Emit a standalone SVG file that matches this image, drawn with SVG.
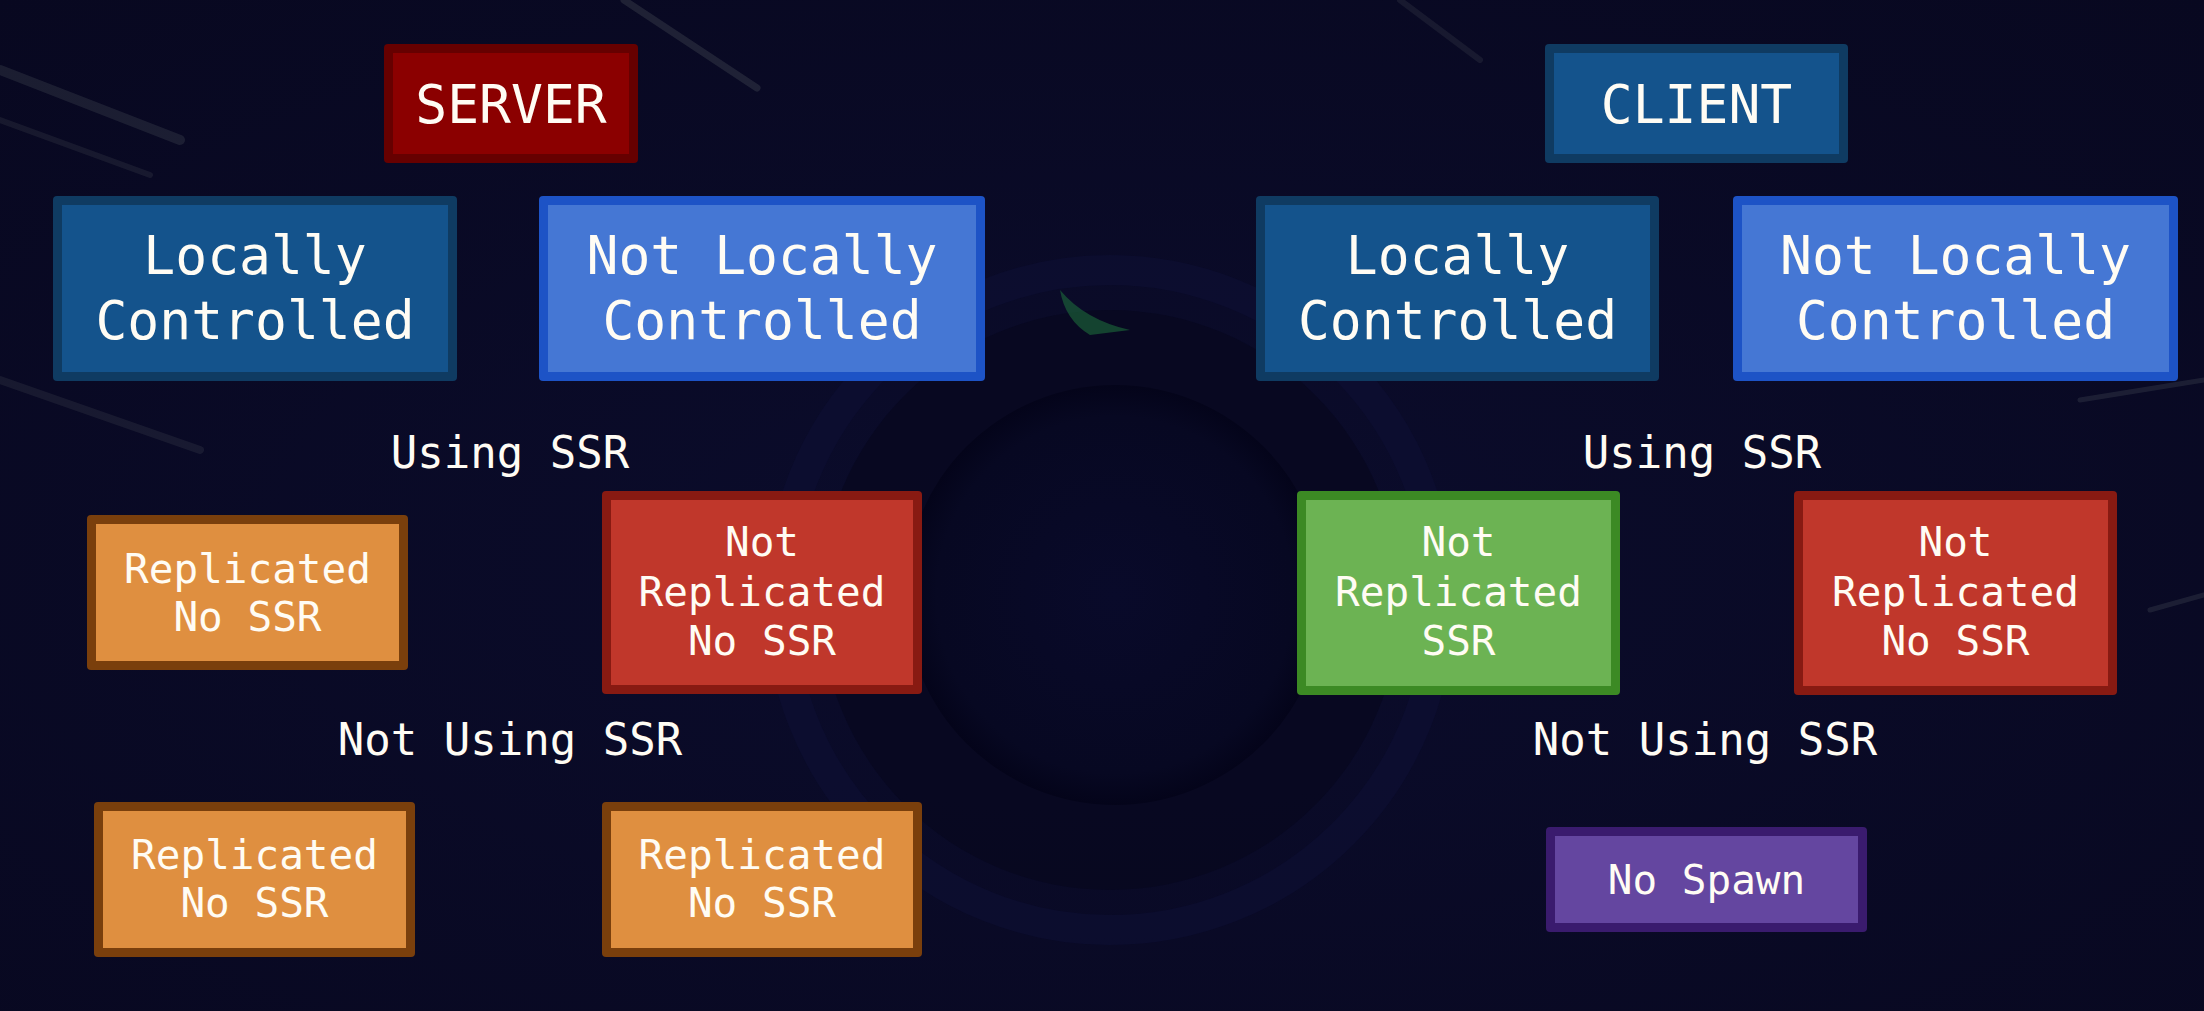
<svg xmlns="http://www.w3.org/2000/svg" width="2204" height="1011" viewBox="0 0 2204 1011">
<style>
.t{font-family:"DejaVu Sans Mono","Liberation Mono",monospace;fill:#fffcf4;text-anchor:middle}
.big{font-size:53px}
.mid{font-size:44px}
.sm{font-size:41px}
.streak{stroke:#c8d8c0;stroke-linecap:round;fill:none}
</style>
<defs>
<radialGradient id="bg" cx="0.5" cy="0.55" r="0.75">
<stop offset="0" stop-color="#0b0c2c"/>
<stop offset="1" stop-color="#080820"/>
</radialGradient>
<radialGradient id="disc" cx="0.5" cy="0.5" r="0.5">
<stop offset="0" stop-color="#090a2a"/>
<stop offset="0.85" stop-color="#070822"/>
<stop offset="1" stop-color="#04041a"/>
</radialGradient>
</defs>
<g id="background">
<rect width="2204" height="1011" fill="url(#bg)"/>
<circle cx="1110" cy="600" r="330" fill="none" stroke="#0d0f34" stroke-width="30" opacity="0.6"/>
<circle cx="1110" cy="600" r="290" fill="#06061c" opacity="0.6"/>
<circle cx="1115" cy="595" r="210" fill="url(#disc)"/>
<path class="streak" d="M0 70 L180 140" stroke-width="10" opacity="0.10"/>
<path class="streak" d="M0 120 L150 175" stroke-width="6" opacity="0.08"/>
<path class="streak" d="M0 380 L200 450" stroke-width="8" opacity="0.08"/>
<path class="streak" d="M624 0 L757 88" stroke-width="7" opacity="0.12"/>
<path class="streak" d="M1400 0 L1480 60" stroke-width="6" opacity="0.08"/>
<path class="streak" d="M2080 400 L2204 380" stroke-width="5" opacity="0.10"/>
<path class="streak" d="M2150 610 L2204 595" stroke-width="5" opacity="0.10"/>
<path d="M1060 290 Q1085 320 1130 330 L1090 335 Q1065 320 1060 290 Z" fill="#1d6a3a" opacity="0.6"/>
</g>
<g id="connectors"></g>
<g id="server">
<rect x="384" y="44" width="254" height="119" rx="4" fill="#660000"/>
<rect x="393" y="53" width="236" height="101" fill="#8b0000"/>
<text class="t big" x="511" y="123">SERVER</text>
</g>
<g id="client">
<rect x="1545" y="44" width="303" height="119" rx="4" fill="#0f3b62"/>
<rect x="1554" y="53" width="285" height="101" fill="#14538c"/>
<text class="t big" x="1696.5" y="123">CLIENT</text>
</g>
<g id="server-locally-controlled">
<rect x="53" y="196" width="404" height="185" rx="4" fill="#0f3b62"/>
<rect x="62" y="205" width="386" height="167" fill="#14538c"/>
<text class="t big" x="255" y="274">Locally</text>
<text class="t big" x="255" y="339">Controlled</text>
</g>
<g id="server-not-locally-controlled">
<rect x="539" y="196" width="446" height="185" rx="4" fill="#1d53c6"/>
<rect x="548" y="205" width="428" height="167" fill="#4577d4"/>
<text class="t big" x="762" y="274">Not Locally</text>
<text class="t big" x="762" y="339">Controlled</text>
</g>
<g id="client-locally-controlled">
<rect x="1256" y="196" width="403" height="185" rx="4" fill="#0f3b62"/>
<rect x="1265" y="205" width="385" height="167" fill="#14538c"/>
<text class="t big" x="1457.5" y="274">Locally</text>
<text class="t big" x="1457.5" y="339">Controlled</text>
</g>
<g id="client-not-locally-controlled">
<rect x="1733" y="196" width="445" height="185" rx="4" fill="#1d53c6"/>
<rect x="1742" y="205" width="427" height="167" fill="#4577d4"/>
<text class="t big" x="1955.5" y="274">Not Locally</text>
<text class="t big" x="1955.5" y="339">Controlled</text>
</g>
<g id="labels">
<text class="t mid" x="510" y="468">Using SSR</text>
<text class="t mid" x="1702" y="468">Using SSR</text>
<text class="t mid" x="510" y="755">Not Using SSR</text>
<text class="t mid" x="1705" y="755">Not Using SSR</text>
</g>
<g id="server-lc-ssr">
<rect x="87" y="515" width="321" height="155" rx="4" fill="#7a3f0c"/>
<rect x="96" y="524" width="303" height="137" fill="#df8f40"/>
<text class="t sm" x="247.5" y="583">Replicated</text>
<text class="t sm" x="247.5" y="631">No SSR</text>
</g>
<g id="server-nlc-ssr">
<rect x="602" y="491" width="320" height="203" rx="4" fill="#881a12"/>
<rect x="611" y="500" width="302" height="185" fill="#c0372b"/>
<text class="t sm" x="762" y="556">Not</text>
<text class="t sm" x="762" y="606">Replicated</text>
<text class="t sm" x="762" y="655">No SSR</text>
</g>
<g id="client-lc-ssr">
<rect x="1297" y="491" width="323" height="204" rx="4" fill="#3c8a24"/>
<rect x="1306" y="500" width="305" height="186" fill="#6cb353"/>
<text class="t sm" x="1458.5" y="556">Not</text>
<text class="t sm" x="1458.5" y="606">Replicated</text>
<text class="t sm" x="1458.5" y="655">SSR</text>
</g>
<g id="client-nlc-ssr">
<rect x="1794" y="491" width="323" height="204" rx="4" fill="#881a12"/>
<rect x="1803" y="500" width="305" height="186" fill="#c0372b"/>
<text class="t sm" x="1955.5" y="556">Not</text>
<text class="t sm" x="1955.5" y="606">Replicated</text>
<text class="t sm" x="1955.5" y="655">No SSR</text>
</g>
<g id="server-lc-nossr">
<rect x="94" y="802" width="321" height="155" rx="4" fill="#7a3f0c"/>
<rect x="103" y="811" width="303" height="137" fill="#df8f40"/>
<text class="t sm" x="254.5" y="869">Replicated</text>
<text class="t sm" x="254.5" y="917">No SSR</text>
</g>
<g id="server-nlc-nossr">
<rect x="602" y="802" width="320" height="155" rx="4" fill="#7a3f0c"/>
<rect x="611" y="811" width="302" height="137" fill="#df8f40"/>
<text class="t sm" x="762" y="869">Replicated</text>
<text class="t sm" x="762" y="917">No SSR</text>
</g>
<g id="client-nossr">
<rect x="1546" y="827" width="321" height="105" rx="4" fill="#3a1b6e"/>
<rect x="1555" y="836" width="303" height="87" fill="#6446a0"/>
<text class="t sm" x="1706.5" y="894">No Spawn</text>
</g>
</svg>
